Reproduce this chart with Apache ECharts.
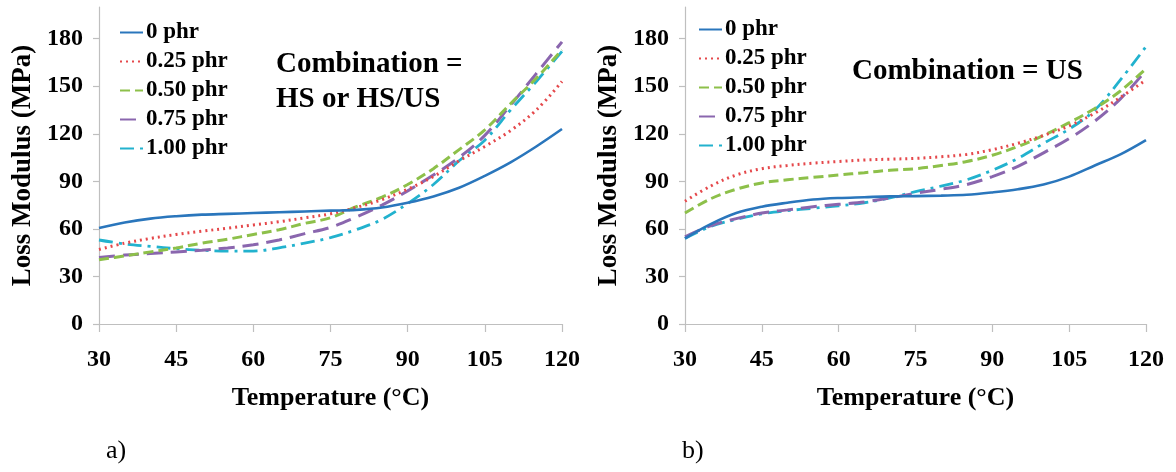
<!DOCTYPE html>
<html>
<head>
<meta charset="utf-8">
<script src="https://cdn.jsdelivr.net/npm/echarts@6/dist/echarts.min.js"></script>
<style>
html,body{margin:0;padding:0;background:#fff;}
#c{width:1176px;height:472px;}
</style>
</head>
<body>
<div id="c"></div>
<script>
// ---------- DATA ----------
const temps = [30,35,40,45,50,55,60,65,70,75,80,85,90,95,100,105,110,115,120];
const seriesNames = ['0 phr','0.25 phr','0.50 phr','0.75 phr','1.00 phr'];
const yTickValues = [0,30,60,90,120,150,180];
const xTickValues = [30,45,60,75,90,105,120];

// Panel a) Combination = HS or HS/US
const a_0phr   = [60.5,64,66.5,68,69,69.5,70,70.5,71,71.5,72,73.5,76.5,80.5,86,93.5,102,112,123];
const a_025phr = [47,51,54,56.5,58.5,60.5,62.5,64.5,67,69.5,73.5,78.5,85,93,103,112,122,135,153];
const a_050phr = [40.5,43,45.5,48,51,53.5,56.5,59.5,63.5,67,74,80,88,98,110,122.5,139,155,173];
const a_075phr = [42,43.5,44.5,45.5,46.5,48,50,53,57,61,67.5,75,84,94,105,119,138,158,178];
const a_100phr = [53,50.5,49,47.5,46.5,46,46,48,51,54.5,59.5,66,76,88,103,116,135,153,172];

// Panel b) Combination = US
const b_0phr   = [54,63,70,74,76.5,78.5,79.5,80,80.5,80.7,81,81.5,83,85,88,93,100,107,116];
const b_025phr = [77.5,87,94,98,100,101.5,102.5,103.5,104,104.5,105.5,107,110,114,119,125,133,143,154];
const b_050phr = [70,79,85,89,91,92.5,94,95.5,97,98,100,102.5,106.5,112,119,127,136,147,161];
const b_075phr = [55,62,66.5,70,72,74,75.5,77,79.5,82.5,85,88,93,99.5,108,117,128,142,160];
const b_100phr = [54,61.5,66,69.5,71.5,73,74.5,76.5,79.5,83.5,87,91,97,104.5,114,123,135,154,175];

const panelA = [a_0phr,a_025phr,a_050phr,a_075phr,a_100phr];
const panelB = [b_0phr,b_025phr,b_050phr,b_075phr,b_100phr];

// ---------- STYLE ----------
const colors = ['#2A76BC','#E5484B','#8DC04A','#8A66AE','#22B2CE'];
const dashes = ['solid',[2,4],[10,5],[16,8],[14,6,3,6]];
const widths = [2.6,3,3,3,2.8];
const FONT = '"Liberation Serif","Times New Roman",serif';

const chart = echarts.init(document.getElementById('c'), null, {renderer:'canvas'});

function makeSeries(panel, idx){
  return panel.map((vals,i)=>({
    name: seriesNames[i],
    type:'line',
    xAxisIndex: idx, yAxisIndex: idx,
    data: temps.map((t,k)=>[t,vals[k]]),
    smooth: 0.35,
    symbol:'none',
    color: colors[i],
    lineStyle:{color:colors[i], width:widths[i], type:dashes[i], cap:'butt'},
    z: 10 - i
  }));
}

function xAxis(idx){
  return {
    gridIndex: idx, type:'value', min:30, max:120, interval:15,
    name:'Temperature (°C)', nameLocation:'middle', nameGap:61,
    nameTextStyle:{fontFamily:FONT, fontWeight:'bold', fontSize:26, color:'#000'},
    axisLine:{show:true, lineStyle:{color:'#BFBFBF', width:1.2}},
    axisTick:{show:true, inside:false, length:8, lineStyle:{color:'#BFBFBF', width:1.2}},
    axisLabel:{fontFamily:FONT, fontWeight:'bold', fontSize:24, color:'#000', margin:24,
      customValues: xTickValues},
    splitLine:{show:false}
  };
}
function yAxis(idx){
  return {
    gridIndex: idx, type:'value', min:0, max:200, interval:30,
    name:'Loss Modulus (MPa)', nameLocation:'middle', nameGap:62, nameRotate:90,
    nameTextStyle:{fontFamily:FONT, fontWeight:'bold', fontSize:27, color:'#000'},
    axisLine:{show:true, lineStyle:{color:'#BFBFBF', width:1.2}},
    axisTick:{show:true, inside:false, length:6, lineStyle:{color:'#BFBFBF', width:1.2},
      customValues: yTickValues},
    axisLabel:{fontFamily:FONT, fontWeight:'bold', fontSize:24, color:'#000', margin:16,
      customValues: yTickValues},
    splitLine:{show:false}
  };
}
function legend(left, top){
  return {
    show:true, orient:'vertical', left:left, top:top,
    itemWidth:23, itemHeight:12, itemGap:6,
    itemStyle:{color:'transparent', borderWidth:0, opacity:0},
    textStyle:{fontFamily:FONT, fontWeight:'bold', fontSize:23, color:'#000', padding:[0,0,0,-2]},
    data: seriesNames, selectedMode:false
  };
}

const option = {
  backgroundColor:'#fff',
  animation:false,
  grid:[
    {left:99, right:614, top:7, bottom:148, containLabel:false},
    {left:685, right:30, top:7, bottom:148, containLabel:false}
  ],
  xAxis:[xAxis(0), xAxis(1)],
  yAxis:[yAxis(0), yAxis(1)],
  legend:[legend(114,16), legend(693,13)],
  series:[...makeSeries(panelA,0), ...makeSeries(panelB,1)],
  graphic:[
    {type:'text', left:276, top:47, style:{text:'Combination =\nHS or HS/US', font:'bold 29px '+FONT, fill:'#000', lineHeight:35}},
    {type:'text', left:852, top:57, style:{text:'Combination = US', font:'bold 29px '+FONT, fill:'#000'}},
    {type:'text', left:106, top:438, style:{text:'a)', font:'26px '+FONT, fill:'#000'}},
    {type:'text', left:682, top:438, style:{text:'b)', font:'26px '+FONT, fill:'#000'}}
  ]
};
chart.setOption(option);
</script>
</body>
</html>
